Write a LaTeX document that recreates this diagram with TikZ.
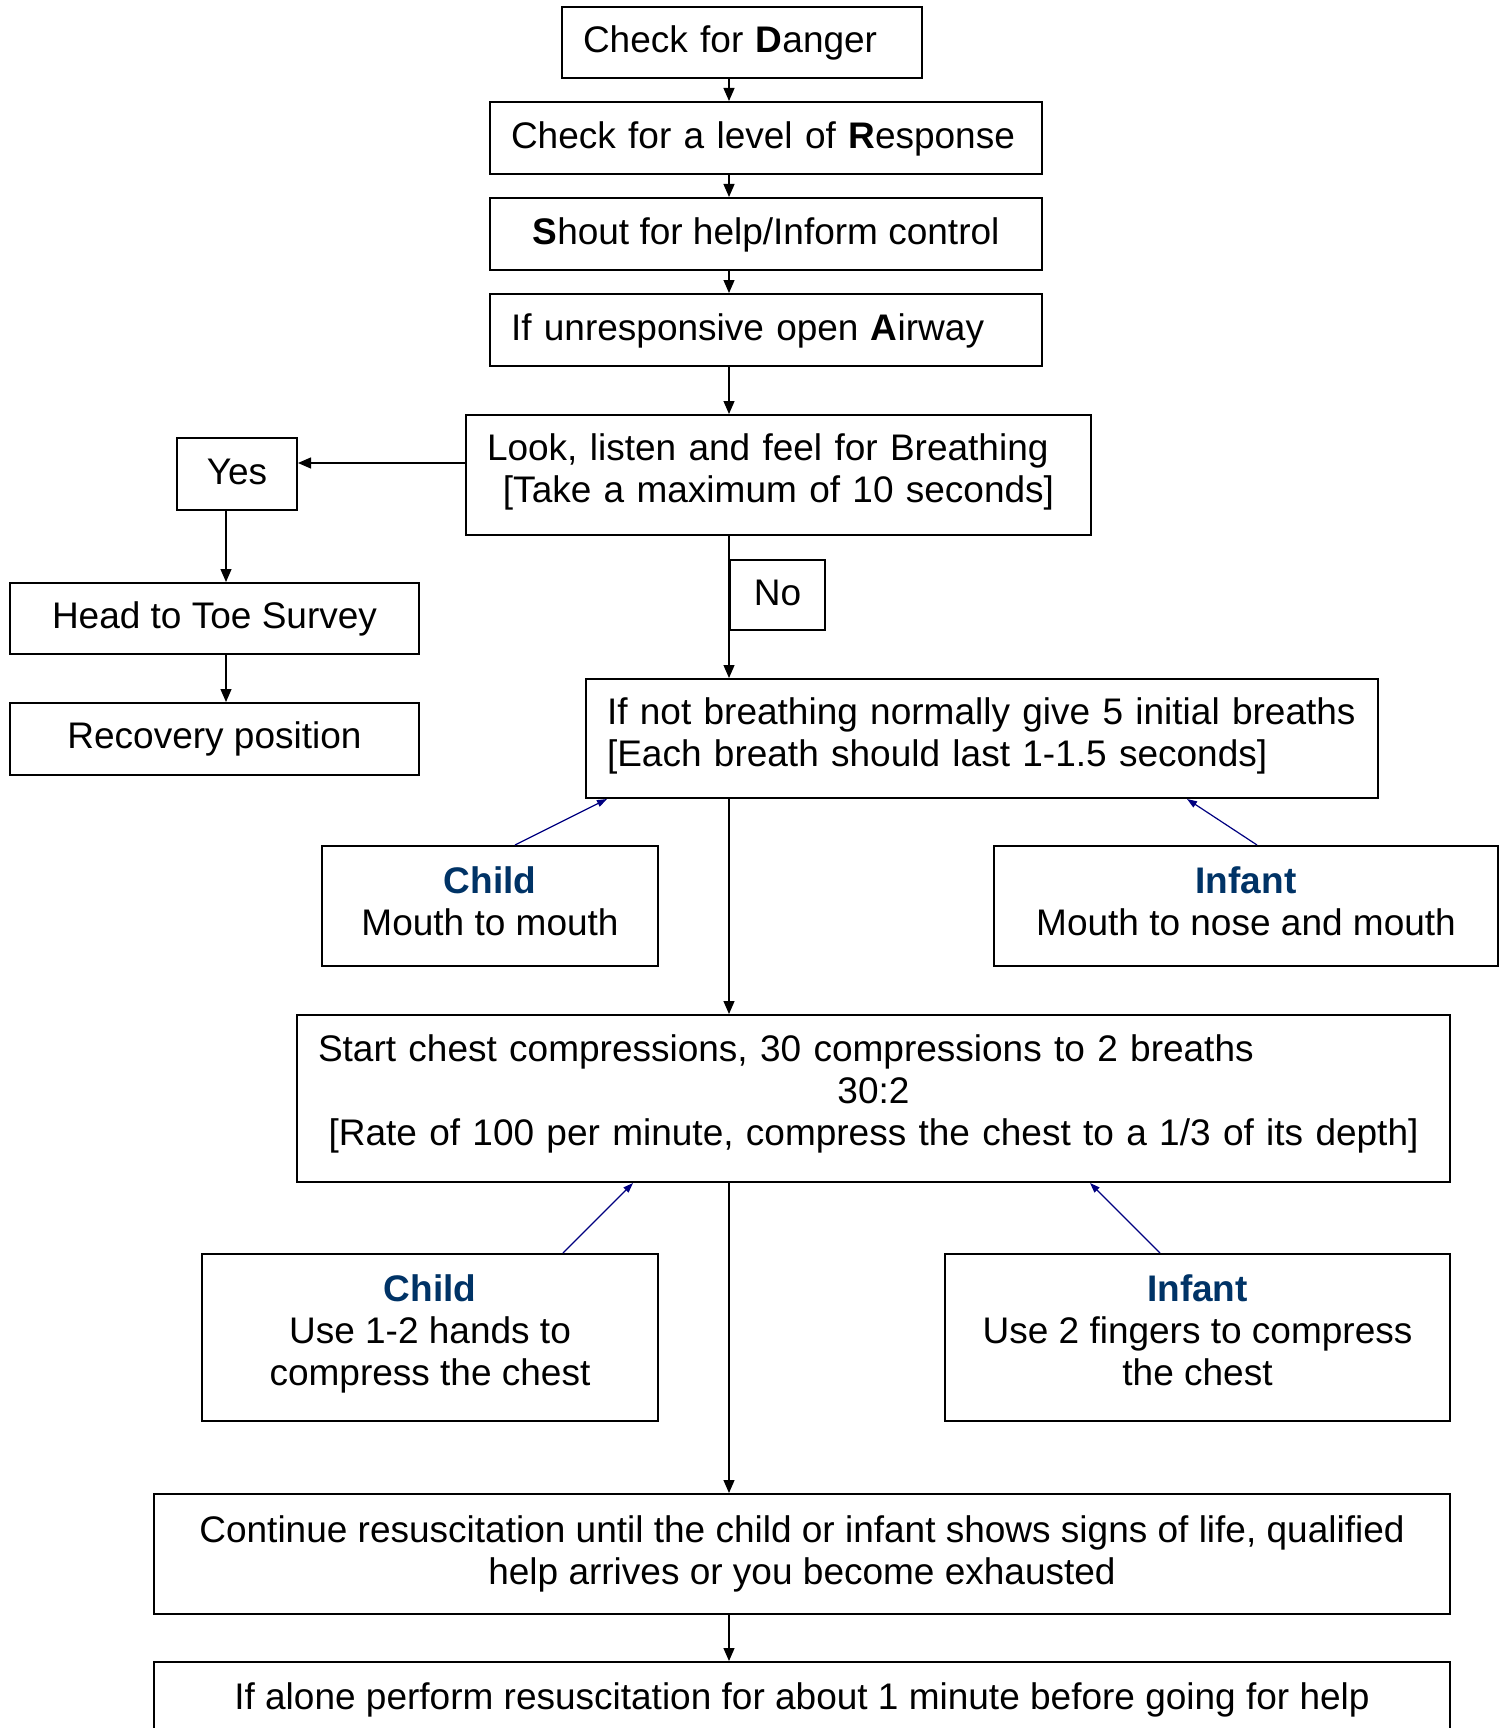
\documentclass[tikz,border=0pt]{standalone}
\usepackage{fontspec}
\setmainfont{Liberation Sans}
\usetikzlibrary{arrows.meta,calc}
\definecolor{hdr}{RGB}{0,51,102}
\definecolor{navyarrow}{RGB}{0,0,128}
\begin{document}
\begin{tikzpicture}[x=0.5pt,y=-0.5pt,
  box/.style={draw, line width=1pt, inner xsep=10.5pt, inner ysep=2pt,
    font=\fontsize{18.5pt}{21pt}\selectfont, align=center},
  down/.style={text height=#1pt, text depth=0pt},
  up/.style={text height=0pt, text depth=#1pt},
  conn/.style={line width=0.6pt, -{Triangle[length=6.5pt,width=5.5pt]}},
  bluearrow/.style={draw=navyarrow, line width=0.6pt, -{Triangle[length=5pt,width=3.5pt]}}
]
\useasboundingbox (0,0) rectangle (1505,1728);
\clip (0,0) rectangle (1505,1728);

\node[box, down=10.5, minimum width=180pt, minimum height=35.5pt, text width=159pt, align=left] (danger) at (742,42.5) {Check for \textbf{D}anger};
\node[box, down=10.5, minimum width=276pt, minimum height=36pt, text width=255pt, align=left] (response) at (766,138) {Check for a level of \textbf{R}esponse};
\node[box, down=11, minimum width=276pt, minimum height=36pt] (shout) at (766,234) {\textbf{S}hout for help/Inform control};
\node[box, down=10.7, minimum width=276pt, minimum height=36pt, text width=255pt, align=left] (airway) at (766,330) {If unresponsive open \textbf{A}irway};
\node[box, up=15, minimum width=312.5pt, minimum height=60pt, text width=291.5pt] (look) at (778.5,475) {\makebox[291.5pt][l]{Look, listen and feel for Breathing}\\{[Take a maximum of 10 seconds]}};
\node[box, down=10, minimum width=60pt, minimum height=36pt] (yes) at (237,474) {Yes};
\node[box, down=9.5, minimum width=204.5pt, minimum height=35.5pt] (survey) at (214.5,618.5) {Head to Toe Survey};
\node[box, down=9.7, minimum width=204.5pt, minimum height=36pt] (recovery) at (214.5,739) {Recovery position};
\node[box, down=10, minimum width=47.5pt, minimum height=35pt] (no) at (777.5,595) {No};
\node[box, up=13.6, minimum width=396pt, minimum height=59.5pt, text width=375pt, align=left] (breaths) at (982,738.5) {If not breathing normally give 5 initial breaths\\{[Each breath should last 1-1.5 seconds]}};
\node[box, down=29.5, minimum width=168pt, minimum height=60pt] (child1) at (490,906) {\textcolor{hdr}{\textbf{Child}}\\Mouth to mouth};
\node[box, down=29.5, minimum width=252pt, minimum height=60pt] (infant1) at (1246,906) {\textcolor{hdr}{\textbf{Infant}}\\Mouth to nose and mouth};
\node[box, up=37, minimum width=576.5pt, minimum height=83.5pt, text width=555.5pt] (compress) at (873.5,1098.5) {\makebox[555.5pt][l]{Start chest compressions, 30 compressions to 2 breaths}\\30:2\\{[Rate of 100 per minute, compress the chest to a 1/3 of its depth]}};
\node[box, down=48, minimum width=228pt, minimum height=83.5pt] (child2) at (430,1337.5) {\textcolor{hdr}{\textbf{Child}}\\Use 1-2 hands to\\compress the chest};
\node[box, down=48, minimum width=252.5pt, minimum height=83.5pt] (infant2) at (1197.5,1337.5) {\textcolor{hdr}{\textbf{Infant}}\\Use 2 fingers to compress\\the chest};
\node[box, down=30, minimum width=648pt, minimum height=60pt] (continue) at (802,1554) {Continue resuscitation until the child or infant shows signs of life, qualified\\help arrives or you become exhausted};
\node[box, down=12.5, minimum width=648pt, minimum height=35pt] (alone) at (802,1697) {If alone perform resuscitation for about 1 minute before going for help};

\coordinate (spine) at (729,0);
\coordinate (yesrow) at (0,463);
\coordinate (leftcol) at (226,0);

\draw[conn] (spine |- danger.south) -- (spine |- response.north);
\draw[conn] (spine |- response.south) -- (spine |- shout.north);
\draw[conn] (spine |- shout.south) -- (spine |- airway.north);
\draw[conn] (spine |- airway.south) -- (spine |- look.north);
\draw[conn] (look.west |- yesrow) -- (yes.east |- yesrow);
\draw[conn] (leftcol |- yes.south) -- (leftcol |- survey.north);
\draw[conn] (leftcol |- survey.south) -- (leftcol |- recovery.north);
\draw[conn] (spine |- look.south) -- (spine |- breaths.north);
\draw[conn] (spine |- breaths.south) -- (spine |- compress.north);
\draw[conn] (spine |- compress.south) -- (spine |- continue.north);
\draw[conn] (spine |- continue.south) -- (spine |- alone.north);

\draw[bluearrow] ($(child1.north)+(25,0)$) -- ($(breaths.south west)+(22,0)$);
\draw[bluearrow] ($(infant1.north)+(11,0)$) -- ($(breaths.south west)+(602,0)$);
\draw[bluearrow] ($(child2.north)+(133,0)$) -- ($(compress.south west)+(337,0)$);
\draw[bluearrow] ($(infant2.north west)+(216,0)$) -- ($(compress.south west)+(794,0)$);
\end{tikzpicture}
\end{document}
